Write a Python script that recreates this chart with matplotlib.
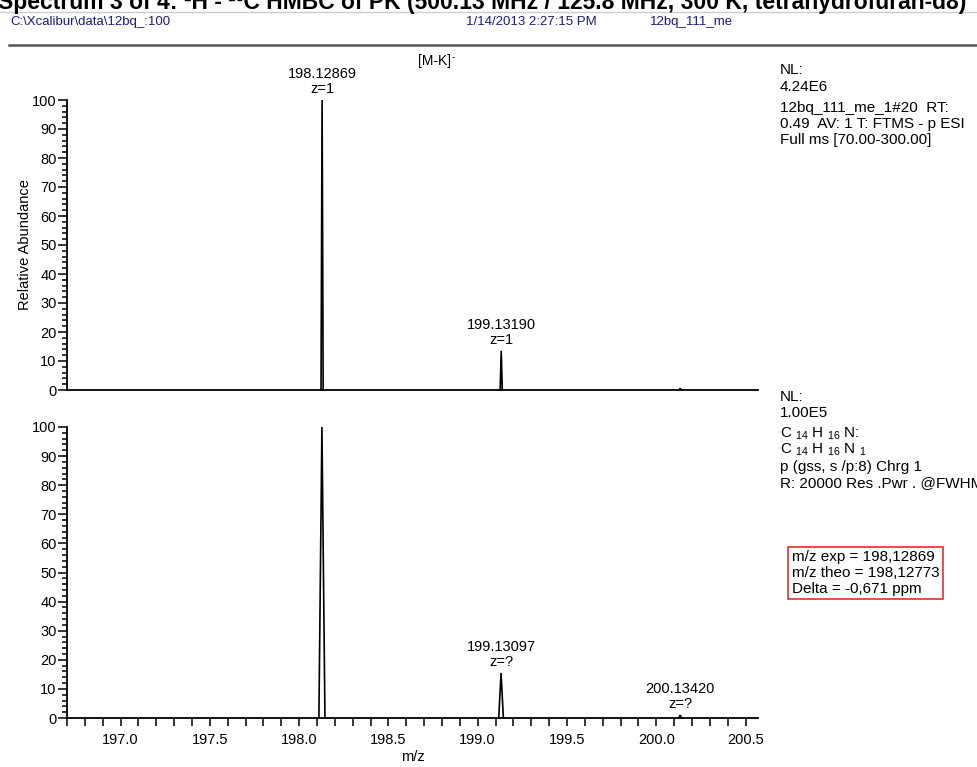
import matplotlib
matplotlib.use("Agg")
import matplotlib.pyplot as plt
from matplotlib.ticker import MultipleLocator

plt.rcParams['font.family'] = ['Liberation Sans', 'DejaVu Sans']
plt.rcParams['mathtext.fontset'] = 'custom'
plt.rcParams['mathtext.rm'] = 'Liberation Sans'

# measured spectrum (top) - centroid m/z, relative abundance, half width of profile
meas_mz = [198.12869, 199.13190, 200.13420]
meas_int = [100.0, 13.5, 0.6]
meas_hw = [0.006, 0.006, 0.006]
meas_labels = ["198.12869\nz=1", "199.13190\nz=1", None]

# simulated isotope pattern (bottom)
sim_mz = [198.12773, 199.13097, 200.13420]
sim_int = [100.0, 15.5, 1.0]
sim_hw = [0.017, 0.013, 0.008]
sim_labels = [None, "199.13097\nz=?", "200.13420\nz=?"]

xmin, xmax = 196.70, 200.57

W, H = 978, 767
fig = plt.figure(figsize=(W / 100, H / 100), dpi=100)


def fy(px):
    return 1 - px / H


def fx(px):
    return px / W


def spectrum(ax, mz, inten, hw, labels):
    for c, h, w, lab in zip(mz, inten, hw, labels):
        ax.plot([c - w, c, c + w], [0, h, 0], color='black', lw=1.2,
                clip_on=False, solid_joinstyle='miter')
        if lab:
            ax.annotate(lab, xy=(c, h), xytext=(0, 3), textcoords='offset points',
                        ha='center', va='bottom', fontsize=10.5, linespacing=1.05)
    ax.set_xlim(xmin, xmax)
    ax.set_ylim(0, 100)
    ax.spines[['top', 'right']].set_visible(False)
    ax.spines[['left', 'bottom']].set_linewidth(1.3)
    ax.yaxis.set_major_locator(MultipleLocator(10))
    ax.yaxis.set_minor_locator(MultipleLocator(2))
    ax.tick_params(axis='y', which='major', length=6.5, width=1.1, labelsize=10.5, pad=1)
    ax.tick_params(axis='y', which='minor', length=3.6, width=1.1)


ax1 = fig.add_axes([fx(67), fy(390), fx(758) - fx(67), fy(100) - fy(390)])
spectrum(ax1, meas_mz, meas_int, meas_hw, meas_labels)
ax1.set_xticks([])
ax1.set_ylabel("Relative Abundance", fontsize=10.5, labelpad=0)

ax2 = fig.add_axes([fx(67), fy(718), fx(758) - fx(67), fy(427) - fy(718)])
spectrum(ax2, sim_mz, sim_int, sim_hw, sim_labels)
ax2.xaxis.set_major_locator(MultipleLocator(0.5))
ax2.xaxis.set_minor_locator(MultipleLocator(0.1))
ax2.xaxis.set_major_formatter(lambda v, p: f"{v:.1f}")
ax2.tick_params(axis='x', which='both', length=6, width=1.1, labelsize=10.5, pad=5)
ax2.set_xlabel("m/z", fontsize=10.5, labelpad=2)

# header (title line is cut off at the top edge like in the original screenshot)
fig.text(fx(-2), fy(9),
         "Spectrum 3 of 4: \u00b9H - \u00b9\u00b3C HMBC of PK (500.13 MHz / 125.8 MHz, 300 K, tetrahydrofuran-d8)",
         fontsize=16.5, fontweight='bold', va='baseline')
fig.add_artist(plt.Line2D([0, 1], [fy(12), fy(12)], color='#cccccc', lw=1))
hdr = '#1c1c80'
fig.text(fx(10), fy(22), "C:\\Xcalibur\\data\\12bq_:100", fontsize=9.5, color=hdr, va='center')
fig.text(fx(466), fy(22), "1/14/2013 2:27:15 PM", fontsize=9.5, color=hdr, va='center')
fig.text(fx(650), fy(22), "12bq_111_me", fontsize=9.5, color=hdr, va='center')
fig.add_artist(plt.Line2D([fx(9), 1], [fy(45), fy(45)], color='#555555', lw=1.8))

fig.text(fx(418), fy(61), "[M-K]", fontsize=10, va='center')
fig.text(fx(452), fy(57), "-", fontsize=7, va='center')

# right side info
top_info = [("NL:", 70), ("4.24E6", 87), ("12bq_111_me_1#20  RT:", 108),
            ("0.49  AV: 1 T: FTMS - p ESI", 124), ("Full ms [70.00-300.00]", 140)]
for s, y in top_info:
    fig.text(fx(780), fy(y), s, fontsize=11, va='center')

bot_info = [("NL:", 397), ("1.00E5", 413),
            (r"C $_{\mathrm{14}}$ H $_{\mathrm{16}}$ N:", 434),
            (r"C $_{\mathrm{14}}$ H $_{\mathrm{16}}$ N $_{\mathrm{1}}$", 450),
            ("p (gss, s /p:8) Chrg 1", 467), ("R: 20000 Res .Pwr . @FWHM", 483)]
for s, y in bot_info:
    fig.text(fx(780), fy(y), s, fontsize=11, va='center')

box_lines = "m/z exp = 198,12869\nm/z theo = 198,12773\nDelta = -0,671 ppm"
fig.text(fx(792), fy(573), box_lines, fontsize=11, va='center', linespacing=1.15,
         bbox=dict(boxstyle='square,pad=0.25', fc='white', ec='#e03030', lw=1.2))

fig.savefig("out.png", dpi=100)
